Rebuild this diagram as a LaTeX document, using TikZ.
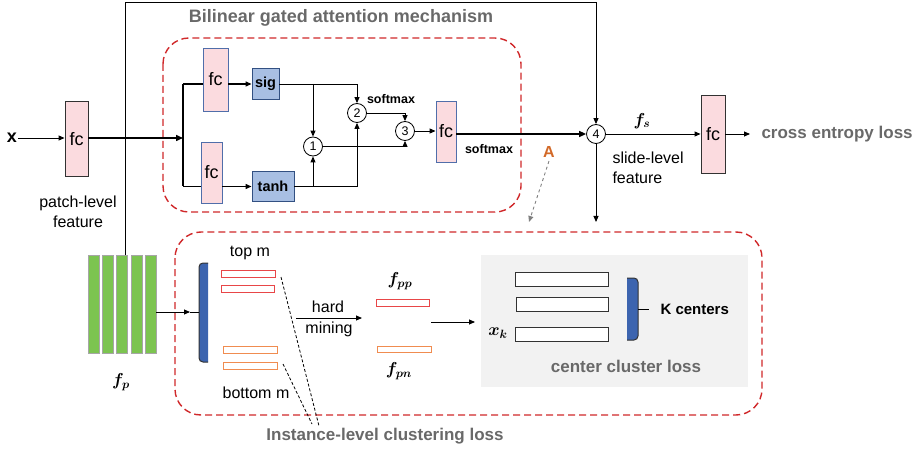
\documentclass[tikz,border=0pt]{standalone}
\usepackage{fontspec}
\setmainfont{Liberation Sans}
\usepackage{bm}
\usetikzlibrary{arrows.meta}
\definecolor{pinkf}{RGB}{251,219,223}
\definecolor{fcblue}{RGB}{80,110,170}
\definecolor{darkb}{RGB}{50,50,50}
\definecolor{actf}{RGB}{168,191,227}
\definecolor{actd}{RGB}{50,80,130}
\definecolor{reddash}{RGB}{208,40,42}
\definecolor{graytxt}{RGB}{105,105,105}
\definecolor{orangeA}{RGB}{210,105,40}
\definecolor{greenbar}{RGB}{124,196,80}
\definecolor{bracketb}{RGB}{60,100,175}
\definecolor{barred}{RGB}{232,70,72}
\definecolor{barorange}{RGB}{240,140,80}
\definecolor{panel}{RGB}{242,242,242}
\tikzset{
  fcbox/.style={draw=fcblue,fill=pinkf,line width=0.9pt,inner sep=0pt,font=\fontsize{18}{20}\selectfont},
  actbox/.style={draw=actd,fill=actf,line width=0.9pt,inner sep=0pt,font=\bfseries\fontsize{14.5}{17}\selectfont},
  opc/.style={draw,circle,minimum size=19pt,inner sep=0pt,line width=0.8pt,fill=white,font=\fontsize{12.5}{14}\selectfont},
  arr/.style={-{Triangle[length=6pt,width=5pt]},line width=0.9pt},
  thk/.style={line width=1.5pt},
  reddashed/.style={draw=reddash,line width=1.4pt,dash pattern=on 7pt off 4pt,rounded corners=26pt},
  graybig/.style={text=graytxt,font=\bfseries\fontsize{17}{20}\selectfont},
  reg/.style={font=\fontsize{16}{20}\selectfont},
  smallb/.style={font=\bfseries\fontsize{12.5}{15}\selectfont},
  greenb/.style={draw=gray!70,fill=greenbar,line width=0.8pt},
  redbar/.style={draw=barred,fill=white,line width=1pt},
  orbar/.style={draw=barorange,fill=white,line width=1pt},
  whbar/.style={draw=darkb,fill=white,line width=1pt},
  mathl/.style={font=\fontsize{18}{20}\selectfont}
}
\begin{document}
\begin{tikzpicture}[x=1pt,y=-1pt]
\useasboundingbox (0,0) rectangle (921,449);

% dashed group frames
\draw[reddashed] (163,38) rectangle (521,212);
\draw[reddashed] (175,232) rectangle (762,415);
\fill[panel] (481,255) rectangle (748,387);

% titles
\node[graybig,font=\bfseries\fontsize{18}{20}\selectfont] (title1) at (341,18) {Bilinear gated attention mechanism};
\node[graybig] (title2) at (385,436) {Instance-level clustering loss};
\node[graybig] (ccl) at (626,366) {center cluster loss};
\node[graybig,anchor=west] (ce) at (758,134) {cross entropy loss};

% top part
\node[font=\bfseries\fontsize{18}{20}\selectfont,inner sep=1pt] (xl) at (12,138) {x};
\node[fcbox,draw=darkb,minimum width=23pt,minimum height=75pt] (fc1) at (76.5,139) {fc};
\node[reg,align=center] (plf) at (78,212) {patch-level\\feature};
\node[fcbox,minimum width=25pt,minimum height=63pt] (fc2) at (215.5,79.5) {fc};
\node[fcbox,minimum width=21pt,minimum height=61pt] (fc3) at (211.5,172.5) {fc};
\node[actbox,minimum width=27pt,minimum height=31pt] (sig) at (265.5,84) {sig};
\node[actbox,minimum width=42pt,minimum height=30pt] (tanh) at (273,186.5) {tanh};
\node[opc] (c1) at (313,146.5) {1};
\node[opc] (c2) at (357,113) {2};
\node[opc] (c3) at (405,131) {3};
\node[fcbox,minimum width=20pt,minimum height=61pt] (fc4) at (446,131.5) {fc};
\node[opc] (c4) at (596,134) {4};
\node[fcbox,draw=darkb,minimum width=24pt,minimum height=78pt] (fc5) at (713,134) {fc};
\node[smallb] (sm1) at (391,99) {softmax};
\node[smallb] (sm2) at (489,149) {softmax};
\node[mathl] (fs) at (642,121) {$\bm{f}_{\bm{s}}$};
\node[reg,align=left,anchor=north west] (slf) at (609,148) {slide-level\\feature};
\node[text=orangeA,font=\bfseries\fontsize{16}{18}\selectfont] (A) at (549,152) {A};

\coordinate (br) at (183,138);
\coordinate (brt) at (183,84);
\coordinate (brb) at (183,186.5);
\coordinate (tl) at (125,2);
\coordinate (vt) at (125,255);
\coordinate (c4d) at (596,222);
\coordinate (Aend) at (529,222);

\draw[arr] (xl.east) -- (fc1.west |- xl.east);
\draw[thk,-{Triangle[length=7pt,width=6pt]}] (fc1.east |- br) -- (br);
\draw[thk] (brt) -- (brb);
\draw[thk] (brt) -- (fc2.west |- brt);
\draw[thk] (brb) -- (fc3.west |- brb);
\draw[arr,line width=1.3pt] (fc2.east |- sig.west) -- (sig.west);
\draw[arr,line width=1.3pt] (fc3.east |- tanh.west) -- (tanh.west);
\draw[arr] (sig.east) -| (c2.north);
\draw[arr] (c1.north |- sig.east) -- (c1.north);
\draw[arr] (tanh.east) -| (c2.south);
\draw[arr] (c1.south |- tanh.east) -- (c1.south);
\draw[arr] (c1.east) -| (c3.south);
\draw[arr] (c2.east) -| (c3.north);
\draw[arr] (c3.east) -- (fc4.west |- c3.east);
\draw[thk,-{Triangle[length=7pt,width=6pt]}] (fc4.east |- c4.west) -- (c4.west);
\draw[arr] (vt) -- (tl) -| (c4.north);
\draw[arr] (c4.east) -- (fc5.west |- c4.east);
\draw[arr] (fc5.east) -- ([xshift=-8pt]ce.west);
\draw[arr] (c4.south) -- (c4d);
\draw[gray,dashed,line width=0.9pt,-{Triangle[length=6pt,width=5pt]}] (A.south) -- (Aend);

% lower part: patch features
\foreach \i/\xx in {1/88,2/102,3/116,4/131,5/145}{
  \node[greenb,minimum width=11pt,minimum height=98pt,inner sep=0pt] (g\i) at (\xx+5.5,304) {};
}
\draw[line width=0.9pt] (vt) -- (tl);
\node[mathl] (fp) at (121,382) {$\bm{f}_{\bm{p}}$};

% left bracket
\filldraw[fill=bracketb,draw=darkb,line width=1pt,rounded corners=4pt] (208,263) -- (199,263) -- (199,362) -- (208,362);
\coordinate (lbr) at (199,312);
\coordinate (arrin) at (190,312);
\draw[arr] (g5.east |- arrin) -- (arrin);
\draw[line width=1pt] (arrin) -- (lbr);

% top / bottom m
\node[reg] (topm) at (250,253) {top m};
\node[reg] (botm) at (256,393) {bottom m};
\node[redbar,minimum width=54pt,minimum height=7pt,inner sep=0pt] (r1) at (248,273.5) {};
\node[redbar,minimum width=53pt,minimum height=7pt,inner sep=0pt] (r2) at (247.5,288.5) {};
\node[orbar,minimum width=54pt,minimum height=7pt,inner sep=0pt] (o1) at (250,349.5) {};
\node[orbar,minimum width=54pt,minimum height=7pt,inner sep=0pt] (o2) at (250,365.5) {};
\coordinate (d1s) at (281,277);
\coordinate (d1e) at (319,426);
\coordinate (d2s) at (283,364);
\coordinate (d2e) at (312,424);
\draw[dashed,line width=0.8pt,dash pattern=on 3pt off 2pt] (d1s) -- (d1e);
\draw[dashed,line width=0.8pt,dash pattern=on 3pt off 2pt] (d2s) -- (d2e);

% hard mining
\coordinate (hm1) at (296,318);
\coordinate (hm2) at (362,318);
\draw[arr] (hm1) -- (hm2);
\node[reg] (hard) at (328,307) {hard};
\node[reg] (mining) at (329,329) {mining};

\node[redbar,minimum width=53pt,minimum height=7pt,inner sep=0pt] (fppb) at (402.5,302.5) {};
\node[orbar,minimum width=54pt,minimum height=6pt,inner sep=0pt] (fpnb) at (404,349) {};
\node[mathl] (fpp) at (400,281) {$\bm{f}_{\bm{pp}}$};
\node[mathl] (fpn) at (399,371) {$\bm{f}_{\bm{pn}}$};
\coordinate (ca1) at (431,322);
\coordinate (ca2) at (475,322);
\draw[arr] (ca1) -- (ca2);

% center cluster panel
\node[whbar,minimum width=93pt,minimum height=14pt,inner sep=0pt] (w1) at (561.5,279) {};
\node[whbar,minimum width=92pt,minimum height=14pt,inner sep=0pt] (w2) at (562,304) {};
\node[whbar,minimum width=93pt,minimum height=14pt,inner sep=0pt] (w3) at (561.5,334) {};
\node[mathl] (xk) at (498,333) {$\bm{x}_{\bm{k}}$};
\filldraw[fill=bracketb,draw=darkb,line width=1pt,rounded corners=4pt] (627,278) -- (638,278) -- (638,340) -- (627,340);
\coordinate (rbr) at (638,309);
\node[font=\bfseries\fontsize{15}{18}\selectfont,anchor=west] (kc) at (657,309) {K centers};
\draw[line width=1pt] (rbr) -- ([xshift=-8pt]kc.west);
\end{tikzpicture}
\end{document}
